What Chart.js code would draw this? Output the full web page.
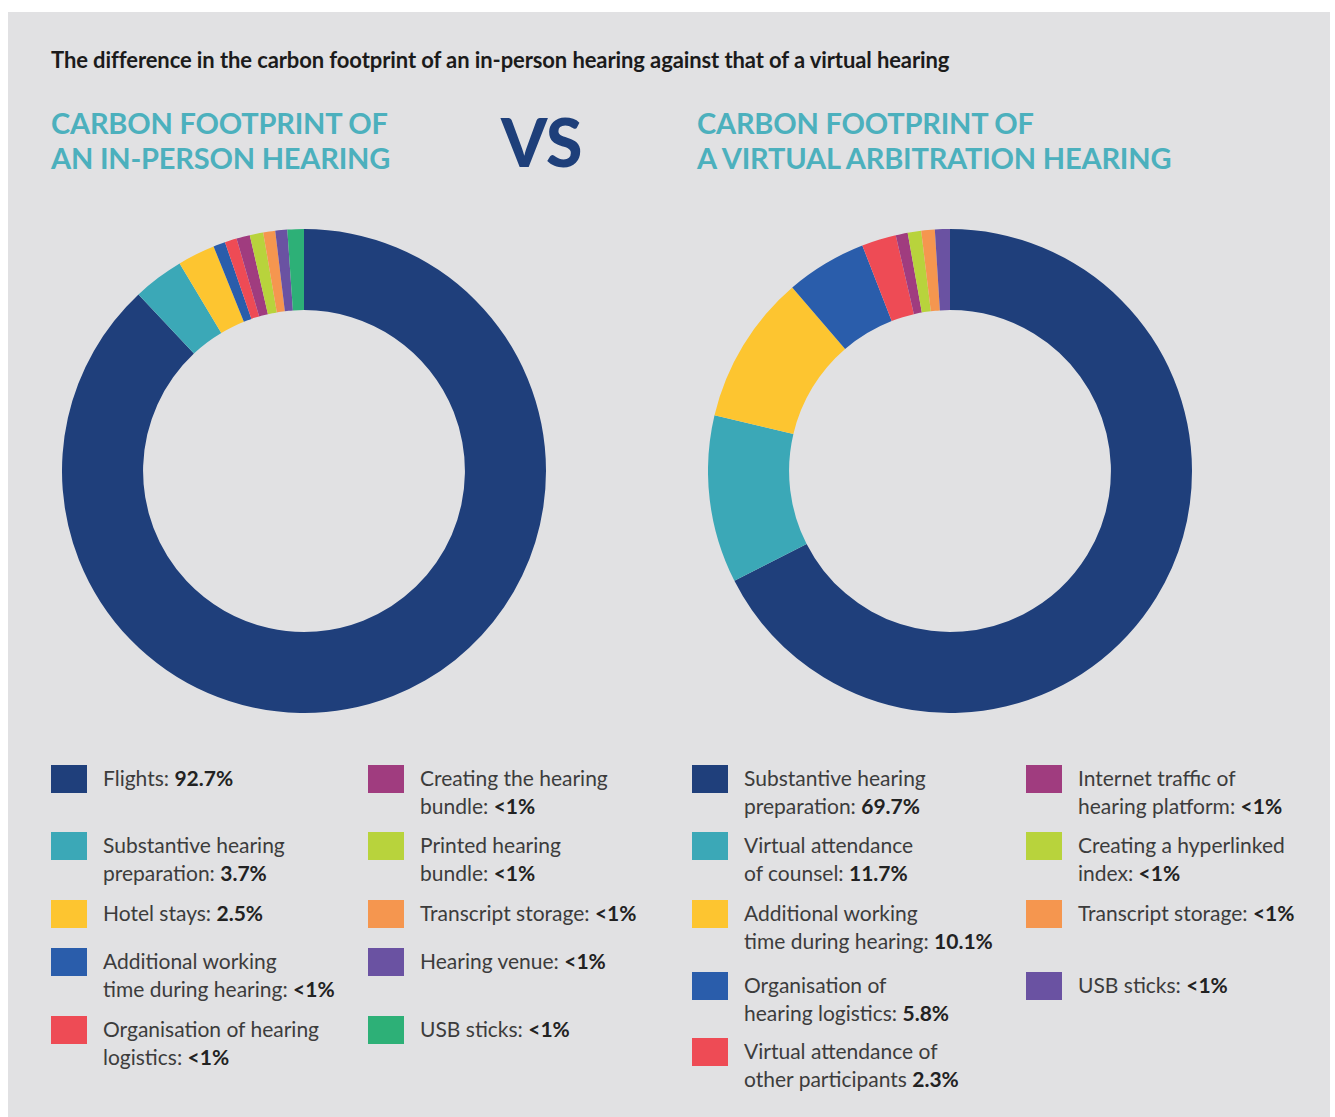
<!DOCTYPE html>
<html>
<head>
<meta charset="utf-8">
<script src="https://cdn.jsdelivr.net/npm/chart.js@4"></script>
<style>
  html, body { margin: 0; padding: 0; background: #fff; }
  body { width: 1335px; height: 1117px; position: relative; overflow: hidden; font-family: Lato, "Open Sans", sans-serif; }
  #panel { position: absolute; left: 8px; top: 12px; width: 1322px; height: 1105px; background: #e1e1e3; }
  .abs { position: absolute; }
  #title { left: 51px; top: 46px; font-size: 22px; font-weight: 700; color: #1b1b1b; white-space: nowrap; letter-spacing: -0.1px; }
  .heading { font-size: 29px; font-weight: 700; color: #4cb0bd; line-height: 35px; white-space: nowrap; letter-spacing: -0.2px; }
  #vs { left: 501px; top: 104px; font-size: 66px; font-weight: 900; color: #1e3f7a; line-height: 76px; }
  .legend { position: absolute; top: 765px; display: grid; grid-auto-flow: column; }
  .item { display: flex; align-items: flex-start; }
  .sw { flex: none; width: 36px; height: 28px; margin-right: 16px; }
  .txt { font-size: 21px; line-height: 28px; color: #3c3c3c; white-space: pre; margin-top: -1px; }
  .txt b { color: #222; font-weight: 700; }
</style>
</head>
<body>
<div id="panel"></div>
<div id="title" class="abs">The difference in the carbon footprint of an in-person hearing against that of a virtual hearing</div>
<div class="abs heading" style="left:51px; top:105px;">CARBON FOOTPRINT OF<br>AN IN-PERSON HEARING</div>
<div id="vs" class="abs">VS</div>
<div class="abs heading" style="left:697px; top:105px;">CARBON FOOTPRINT OF<br>A VIRTUAL ARBITRATION HEARING</div>

<canvas id="leftChart" class="abs" style="left:62px; top:229px;"></canvas>
<canvas id="rightChart" class="abs" style="left:708px; top:229px;"></canvas>

<div id="leftLegend" class="legend" style="left:51px; grid-template-columns: 317px 300px; grid-template-rows: 67px 68px 48px 68px auto;"></div>
<div id="rightLegend" class="legend" style="left:692px; grid-template-columns: 334px 300px; grid-template-rows: 67px 68px 72px 66px auto;"></div>

<script>
// colours shared by both rings
const navy = "#1f3f7b", teal = "#3ba8b7", yellow = "#fdc530", blue = "#2a5dab",
      red = "#ee4b55", magenta = "#a03c7f", lime = "#b8d33c", orange = "#f5964f",
      purple = "#6a52a2", green = "#2db077";

// in-person hearing
const leftNames = ["Flights:", "Substantive hearing\npreparation:", "Hotel stays:", "Additional working\ntime during hearing:",
  "Organisation of hearing\nlogistics:", "Creating the hearing\nbundle:", "Printed hearing\nbundle:",
  "Transcript storage:", "Hearing venue:", "USB sticks:"];
const leftValueText = ["92.7%", "3.7%", "2.5%", "<1%", "<1%", "<1%", "<1%", "<1%", "<1%", "<1%"];
// slice sizes as drawn in the picture (the small ones are drawn wider than their share)
const leftSlices = [88.1, 3.4, 2.5, 0.8, 0.8, 0.9, 0.9, 0.8, 0.8, 1.1];
const leftColors = [navy, teal, yellow, blue, red, magenta, lime, orange, purple, green];

// virtual hearing
const rightNames = ["Substantive hearing\npreparation:", "Virtual attendance\nof counsel:", "Additional working\ntime during hearing:",
  "Organisation of\nhearing logistics:", "Virtual attendance of\nother participants", "Internet traffic of\nhearing platform:",
  "Creating a hyperlinked\nindex:", "Transcript storage:", "USB sticks:"];
const rightValueText = ["69.7%", "11.7%", "10.1%", "5.8%", "2.3%", "<1%", "<1%", "<1%", "<1%"];
const rightSlices = [67.5, 11.2, 10.0, 5.4, 2.3, 0.8, 0.9, 0.9, 1.0];
const rightColors = [navy, teal, yellow, blue, red, magenta, lime, orange, purple];

function ring(id, names, slices, colors) {
  const cv = document.getElementById(id);
  cv.width = 484; cv.height = 484;
  return new Chart(cv.getContext("2d"), {
    type: "doughnut",
    data: {
      labels: names,
      datasets: [{ data: slices, backgroundColor: colors, borderWidth: 0, hoverOffset: 0 }]
    },
    options: {
      responsive: false,
      animation: false,
      cutout: "66.5%",
      layout: { padding: 0 },
      events: [],
      plugins: { legend: { display: false }, tooltip: { enabled: false } }
    }
  });
}

function legend(id, chart, valueText) {
  const box = document.getElementById(id);
  const ds = chart.data.datasets[0];
  chart.data.labels.forEach(function (name, i) {
    const item = document.createElement("div");
    item.className = "item";
    const sw = document.createElement("div");
    sw.className = "sw";
    sw.style.background = ds.backgroundColor[i];
    const txt = document.createElement("div");
    txt.className = "txt";
    txt.appendChild(document.createTextNode(name + " "));
    const b = document.createElement("b");
    b.textContent = valueText[i];
    txt.appendChild(b);
    item.appendChild(sw);
    item.appendChild(txt);
    box.appendChild(item);
  });
}

const leftChart = ring("leftChart", leftNames, leftSlices, leftColors);
const rightChart = ring("rightChart", rightNames, rightSlices, rightColors);
legend("leftLegend", leftChart, leftValueText);
legend("rightLegend", rightChart, rightValueText);
</script>
</body>
</html>
